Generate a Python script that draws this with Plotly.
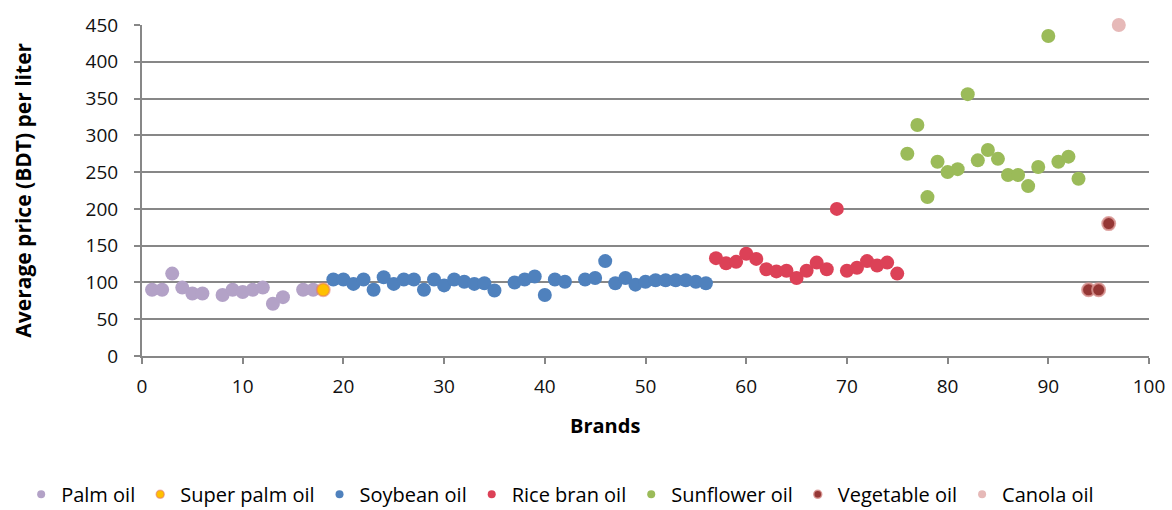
import plotly.graph_objects as go

# ---- data ----
palm_x = [1, 2, 3, 4, 5, 6, 8, 9, 10, 11, 12, 13, 14, 16, 17]
palm_y = [90, 90, 112, 93, 85, 85, 83, 90, 87, 90, 93, 71, 80, 90, 90]

superpalm_x = [18]
superpalm_y = [90]

soy_x = [19, 20, 21, 22, 23, 24, 25, 26, 27, 28, 29, 30, 31, 32, 33, 34, 35,
         37, 38, 39, 40, 41, 42, 44, 45, 46, 47, 48, 49, 50, 51, 52, 53, 54, 55, 56]
soy_y = [104, 104, 98, 104, 90, 107, 98, 104, 104, 90, 104, 96, 104, 101, 98, 99, 89,
         100, 104, 108, 83, 104, 101, 104, 106, 129, 99, 106, 97, 101, 103, 103, 103, 103, 101, 99]

rice_x = [57, 58, 59, 60, 61, 62, 63, 64, 65, 66, 67, 68, 69, 70, 71, 72, 73, 74, 75]
rice_y = [133, 126, 128, 139, 132, 118, 115, 116, 106, 116, 127, 118, 200, 116, 120, 129, 123, 127, 112]

sun_x = [76, 77, 78, 79, 80, 81, 82, 83, 84, 85, 86, 87, 88, 89, 90, 91, 92, 93]
sun_y = [275, 314, 216, 264, 250, 254, 356, 266, 280, 268, 246, 246, 231, 257, 435, 264, 271, 241]

veg_x = [94, 95, 96]
veg_y = [90, 90, 180]

canola_x = [97]
canola_y = [450]

series = [
    ("Palm oil", palm_x, palm_y, "#B3A2C7", None),
    ("Super palm oil", superpalm_x, superpalm_y, "#FFC000", "rgba(226,120,110,0.55)"),
    ("Soybean oil", soy_x, soy_y, "#4F81BD", None),
    ("Rice bran oil", rice_x, rice_y, "#DC4157", None),
    ("Sunflower oil", sun_x, sun_y, "#9BBB59", None),
    ("Vegetable oil", veg_x, veg_y, "#953735", "rgba(217,150,148,0.85)"),
    ("Canola oil", canola_x, canola_y, "#E6B9B8", None),
]

FONT = "Open Sans"
fig = go.Figure()
for name, xs, ys, col, edge in series:
    fig.add_trace(go.Scatter(
        x=xs, y=ys, mode="markers", name=name, showlegend=False, cliponaxis=False,
        marker=dict(size=14 if edge is None else 13, color=col,
                    line=dict(color=edge if edge else col, width=2 if edge else 0)),
    ))
    # small legend symbol
    fig.add_trace(go.Scatter(
        x=[None], y=[None], mode="markers", name=name, showlegend=True,
        marker=dict(size=8, color=col,
                    line=dict(color=edge if edge else col, width=1.5 if edge else 0)),
    ))

grid = "#878787"
fig.update_layout(
    width=1172, height=510,
    margin=dict(l=142, r=23, t=25, b=154, autoexpand=False),
    paper_bgcolor="white", plot_bgcolor="white",
    font=dict(family=FONT, color="#000000", size=18),
    showlegend=True,
    legend=dict(orientation="h", x=-0.12, xanchor="left", y=-0.418, yanchor="middle",
                font=dict(family=FONT, size=20, color="#000"),
                itemwidth=30, tracegroupgap=0, bgcolor="rgba(0,0,0,0)"),
    xaxis=dict(range=[0, 100], dtick=10, tick0=0, showgrid=False, zeroline=False,
               showline=True, linecolor=grid, linewidth=2,
               ticks="outside", ticklen=6, tickwidth=2, tickcolor=grid,
               tickfont=dict(family=FONT, size=19, color="#111"),
               ticklabelstandoff=6),
    yaxis=dict(range=[0, 450], dtick=50, tick0=0, showgrid=True, gridcolor=grid, gridwidth=2,
               zeroline=False, showline=True, linecolor=grid, linewidth=2,
               ticks="outside", ticklen=6, tickwidth=2, tickcolor=grid,
               tickfont=dict(family=FONT, size=19, color="#111"),
               ticklabelstandoff=12),
    annotations=[
        dict(text="<b>Brands</b>", xref="paper", yref="paper", x=0.46, y=-0.21,
             xanchor="center", yanchor="middle", showarrow=False,
             font=dict(family=FONT, size=20, color="#000")),
        dict(text="<b>Average price (BDT) per liter</b>", xref="paper", yref="paper",
             x=-0.119, y=0.5, xanchor="center", yanchor="middle", textangle=-90,
             showarrow=False, font=dict(family=FONT, size=21, color="#000")),
    ],
)

fig.write_html("out.html")
